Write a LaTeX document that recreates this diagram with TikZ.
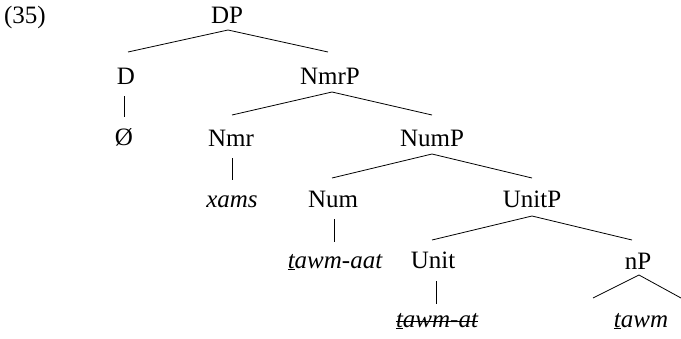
\documentclass[tikz,border=0pt]{standalone}
\usepackage{fontspec}
\setmainfont{Liberation Serif}
\begin{document}
\begin{tikzpicture}[x=1pt,y=-1pt,
  lab/.style={font=\fontsize{25}{28}\selectfont, inner sep=0pt, anchor=base},
  edge/.style={draw=black, line width=0.8pt}]
\useasboundingbox (0,0) rectangle (681,338);
% example number
\node[lab] (num) at (25,23) {(35)};
% tree labels
\node[lab] (dp) at (227,23) {DP};
\node[lab] (d) at (126,84) {D};
\node[lab] (dnull) at (124,145) {Ø};
\node[lab] (nmrp) at (330,84) {NmrP};
\node[lab] (nmr) at (231,146) {Nmr};
\node[lab] (xams) at (232,207) {\itshape xams};
\node[lab] (nump) at (432,146) {NumP};
\node[lab] (numh) at (333,207) {Num};
\node[lab] (tawmaat) at (335,268) {\itshape \underline{t}awm-aat};
\node[lab] (unitp) at (532,207) {UnitP};
\node[lab] (unit) at (433,268) {Unit};
\node[lab] (tawmat) at (437,327) {\itshape \underline{t}awm-at};
\node[lab] (np) at (638,269) {nP};
\node[lab] (tawm) at (641,327) {\itshape \underline{t}awm};
% strike through the unpronounced copy
\draw[line width=0.8pt] ([yshift=6pt]tawmat.base west) -- ([yshift=6pt]tawmat.base east);
% branches
\draw[edge] (128,52) -- (228,30) -- (328,52);
\draw[edge] (124,96) -- (124,117);
\draw[edge] (232,115) -- (332,92) -- (432,115);
\draw[edge] (232,158) -- (232,180);
\draw[edge] (332,178) -- (432,154) -- (532,178);
\draw[edge] (334,219) -- (334,242);
\draw[edge] (432,240) -- (532,216) -- (632,240);
\draw[edge] (436,281) -- (436,304);
\draw[edge] (593,298) -- (639,275) -- (681,298);
\end{tikzpicture}
\end{document}
